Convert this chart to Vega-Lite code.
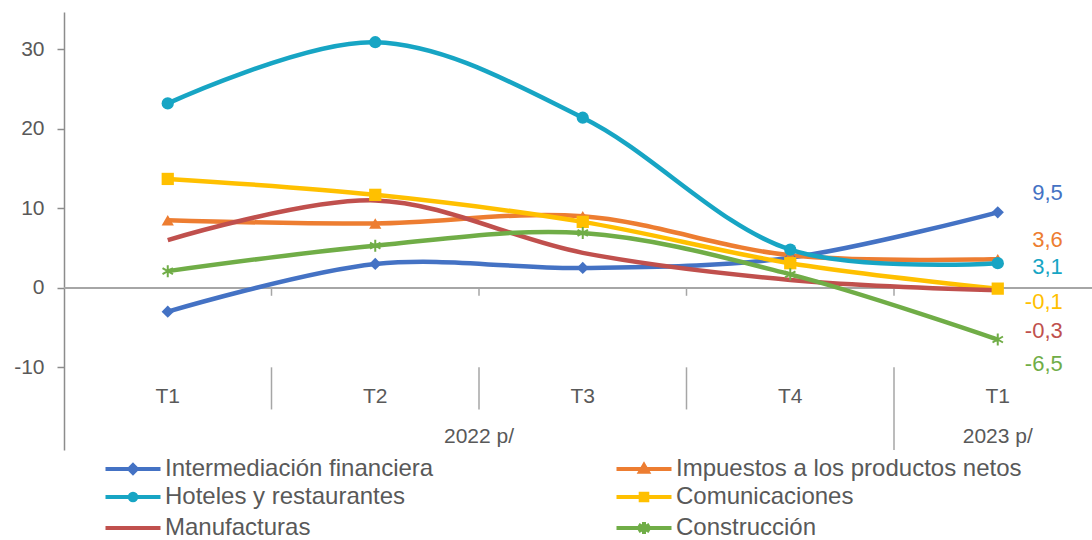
{
  "$schema": "https://vega.github.io/schema/vega-lite/v6.json",
  "width": 1028,
  "height": 438,
  "autosize": {"type": "none"},
  "padding": {"left": 64, "top": 12, "right": 0, "bottom": 90},
  "background": "white",
  "config": {
    "view": {"stroke": null},
    "font": "Liberation Sans",
    "locale": {"number": {"decimal": ",", "thousands": ".", "grouping": [3], "currency": ["", ""], "minus": "-"}}
  },
  "data": {
    "values": [
      {"sector": "Intermediación financiera", "periodo": "T1 2022", "anio": "2022 p/", "valor": -3.0},
      {"sector": "Intermediación financiera", "periodo": "T2 2022", "anio": "2022 p/", "valor": 3.0},
      {"sector": "Intermediación financiera", "periodo": "T3 2022", "anio": "2022 p/", "valor": 2.5},
      {"sector": "Intermediación financiera", "periodo": "T4 2022", "anio": "2022 p/", "valor": 3.8},
      {"sector": "Intermediación financiera", "periodo": "T1 2023", "anio": "2023 p/", "valor": 9.5},
      {"sector": "Impuestos a los productos netos", "periodo": "T1 2022", "anio": "2022 p/", "valor": 8.5},
      {"sector": "Impuestos a los productos netos", "periodo": "T2 2022", "anio": "2022 p/", "valor": 8.1},
      {"sector": "Impuestos a los productos netos", "periodo": "T3 2022", "anio": "2022 p/", "valor": 9.0},
      {"sector": "Impuestos a los productos netos", "periodo": "T4 2022", "anio": "2022 p/", "valor": 4.1},
      {"sector": "Impuestos a los productos netos", "periodo": "T1 2023", "anio": "2023 p/", "valor": 3.6},
      {"sector": "Hoteles y restaurantes", "periodo": "T1 2022", "anio": "2022 p/", "valor": 23.2},
      {"sector": "Hoteles y restaurantes", "periodo": "T2 2022", "anio": "2022 p/", "valor": 30.9},
      {"sector": "Hoteles y restaurantes", "periodo": "T3 2022", "anio": "2022 p/", "valor": 21.4},
      {"sector": "Hoteles y restaurantes", "periodo": "T4 2022", "anio": "2022 p/", "valor": 4.8},
      {"sector": "Hoteles y restaurantes", "periodo": "T1 2023", "anio": "2023 p/", "valor": 3.1},
      {"sector": "Comunicaciones", "periodo": "T1 2022", "anio": "2022 p/", "valor": 13.7},
      {"sector": "Comunicaciones", "periodo": "T2 2022", "anio": "2022 p/", "valor": 11.7},
      {"sector": "Comunicaciones", "periodo": "T3 2022", "anio": "2022 p/", "valor": 8.3},
      {"sector": "Comunicaciones", "periodo": "T4 2022", "anio": "2022 p/", "valor": 3.1},
      {"sector": "Comunicaciones", "periodo": "T1 2023", "anio": "2023 p/", "valor": -0.1},
      {"sector": "Manufacturas", "periodo": "T1 2022", "anio": "2022 p/", "valor": 6.0},
      {"sector": "Manufacturas", "periodo": "T2 2022", "anio": "2022 p/", "valor": 11.0},
      {"sector": "Manufacturas", "periodo": "T3 2022", "anio": "2022 p/", "valor": 4.4},
      {"sector": "Manufacturas", "periodo": "T4 2022", "anio": "2022 p/", "valor": 1.0},
      {"sector": "Manufacturas", "periodo": "T1 2023", "anio": "2023 p/", "valor": -0.3},
      {"sector": "Construcción", "periodo": "T1 2022", "anio": "2022 p/", "valor": 2.1},
      {"sector": "Construcción", "periodo": "T2 2022", "anio": "2022 p/", "valor": 5.3},
      {"sector": "Construcción", "periodo": "T3 2022", "anio": "2022 p/", "valor": 6.9},
      {"sector": "Construcción", "periodo": "T4 2022", "anio": "2022 p/", "valor": 1.7},
      {"sector": "Construcción", "periodo": "T1 2023", "anio": "2023 p/", "valor": -6.5}
    ]
  },
  "layer": [
    {
      "mark": {"type": "rule", "color": "#A6A6A6", "strokeWidth": 1.5},
      "encoding": {
        "y": {
          "datum": 0,
          "type": "quantitative",
          "scale": {"domain": [-20.4, 34.7], "nice": false, "zero": false},
          "axis": {
            "title": null,
            "values": [-10, 0, 10, 20, 30],
            "grid": false,
            "domainColor": "#8C8C8C",
            "domainWidth": 1.5,
            "tickColor": "#8C8C8C",
            "tickWidth": 1.5,
            "tickSize": 7,
            "labelPadding": 13,
            "labelFontSize": 21,
            "labelColor": "#595959",
            "labelFont": "Liberation Sans"
          }
        }
      }
    },
    {
      "transform": [{"filter": "datum.sector === 'Intermediación financiera' && datum.periodo !== 'T1 2022'"}],
      "mark": {"type": "rule", "color": "#A6A6A6", "strokeWidth": 1.5},
      "encoding": {
        "x": {"field": "periodo", "type": "nominal", "bandPosition": 0, "title": null},
        "y": {"datum": 0, "type": "quantitative", "title": null},
        "y2": {"datum": -1}
      }
    },
    {
      "transform": [{"filter": "datum.sector === 'Intermediación financiera' && datum.anio === '2022 p/' && datum.periodo !== 'T1 2022'"}],
      "mark": {"type": "rule", "color": "#A6A6A6", "strokeWidth": 1.5},
      "encoding": {
        "x": {"field": "periodo", "type": "nominal", "bandPosition": 0, "title": null},
        "y": {"datum": -10, "type": "quantitative", "title": null},
        "y2": {"datum": -15.3}
      }
    },
    {
      "transform": [{"filter": "datum.sector === 'Intermediación financiera' && datum.periodo === 'T1 2023'"}],
      "mark": {"type": "rule", "color": "#A6A6A6", "strokeWidth": 1.5},
      "encoding": {
        "x": {"field": "periodo", "type": "nominal", "bandPosition": 0, "title": null},
        "y": {"datum": -10, "type": "quantitative", "title": null},
        "y2": {"datum": -20.4}
      }
    },
    {
      "mark": {"type": "line", "interpolate": "catmull-rom", "strokeWidth": 4.5},
      "encoding": {
        "x": {
          "field": "periodo",
          "type": "nominal",
          "title": null,
          "scale": {
            "type": "band",
            "domain": ["T1 2022", "T2 2022", "T3 2022", "T4 2022", "T1 2023"],
            "range": [0, 1037.5],
            "paddingInner": 0,
            "paddingOuter": 0
          },
          "axis": {
            "title": null,
            "orient": "bottom",
            "offset": -82,
            "ticks": false,
            "tickSize": 0,
            "domain": false,
            "grid": false,
            "labelExpr": "slice(datum.label, 0, 2)",
            "labelFontSize": 21,
            "labelColor": "#595959",
            "labelFont": "Liberation Sans",
            "labelBaseline": "alphabetic",
            "labelAlign": "center",
            "labelPadding": 34,
            "labelAngle": 0
          }
        },
        "y": {"field": "valor", "type": "quantitative", "title": null},
        "color": {
          "field": "sector",
          "type": "nominal",
          "scale": {
            "domain": ["Intermediación financiera", "Impuestos a los productos netos", "Hoteles y restaurantes", "Comunicaciones", "Manufacturas", "Construcción"],
            "range": ["#4472C4", "#ED7D31", "#17A5C4", "#FFC000", "#C0504D", "#70AD47"]
          },
          "legend": {
            "title": null,
            "orient": "none",
            "legendX": 57,
            "legendY": 445,
            "direction": "horizontal",
            "columns": 2,
            "columnPadding": 174,
            "rowPadding": 4,
            "padding": 0,
            "labelFontSize": 24,
            "labelColor": "#595959",
            "labelFont": "Liberation Sans",
            "labelLimit": 600,
            "labelOffset": 20,
            "symbolSize": 121,
            "symbolStrokeWidth": 4,
            "encode": {
              "symbols": {
                "update": {
                  "shape": {"signal": "datum.value === 'Intermediación financiera' ? 'M-5,0H5M0,-0.7L0.7,0L0,0.7L-0.7,0Z' : datum.value === 'Impuestos a los productos netos' ? 'M-5,0H5M0,-0.7L0.7,0.5L-0.7,0.5Z' : datum.value === 'Hoteles y restaurantes' ? 'M-5,0H5M-0.6,0A0.6,0.6 0 1,0 0.6,0A0.6,0.6 0 1,0 -0.6,0Z' : datum.value === 'Comunicaciones' ? 'M-5,0H5M-0.6,-0.6H0.6V0.6H-0.6Z' : datum.value === 'Construcción' ? 'M-5,0H5M0,-1.1V1.1M-1,-0.6L1,0.6M-1,0.6L1,-0.6' : 'M-5,0H5'"},
                  "fill": {"scale": "color", "field": "value"},
                  "stroke": {"scale": "color", "field": "value"},
                  "strokeWidth": {"value": 4},
                  "opacity": {"value": 1}
                }
              }
            }
          }
        }
      }
    },
    {
      "transform": [{"filter": "datum.sector !== 'Manufacturas' && datum.sector !== 'Construcción'"}],
      "mark": {"type": "point", "filled": true, "opacity": 1, "size": 150},
      "encoding": {
        "x": {"field": "periodo", "type": "nominal", "title": null},
        "y": {"field": "valor", "type": "quantitative", "title": null},
        "color": {"field": "sector", "type": "nominal"},
        "shape": {
          "field": "sector",
          "type": "nominal",
          "legend": null,
          "scale": {
            "domain": ["Intermediación financiera", "Impuestos a los productos netos", "Hoteles y restaurantes", "Comunicaciones"],
            "range": ["diamond", "triangle-up", "circle", "square"]
          }
        }
      }
    },
    {
      "transform": [{"filter": "datum.sector === 'Construcción'"}],
      "mark": {"type": "point", "filled": false, "opacity": 1, "size": 144, "strokeWidth": 2, "shape": "M0,-1V1M-0.87,-0.5L0.87,0.5M-0.87,0.5L0.87,-0.5"},
      "encoding": {
        "x": {"field": "periodo", "type": "nominal", "title": null},
        "y": {"field": "valor", "type": "quantitative", "title": null},
        "color": {"field": "sector", "type": "nominal"}
      }
    },
    {
      "transform": [{"filter": "datum.periodo === 'T1 2023' && datum.sector === 'Intermediación financiera'"}],
      "mark": {"type": "text", "align": "right", "baseline": "middle", "dx": 65, "dy": -19, "fontSize": 22, "font": "Liberation Sans"},
      "encoding": {
        "x": {"field": "periodo", "type": "nominal", "title": null},
        "y": {"field": "valor", "type": "quantitative", "title": null},
        "text": {"field": "valor", "type": "quantitative", "format": ".1f"},
        "color": {"field": "sector", "type": "nominal"}
      }
    },
    {
      "transform": [{"filter": "datum.periodo === 'T1 2023' && datum.sector === 'Impuestos a los productos netos'"}],
      "mark": {"type": "text", "align": "right", "baseline": "middle", "dx": 65, "dy": -19, "fontSize": 22, "font": "Liberation Sans"},
      "encoding": {
        "x": {"field": "periodo", "type": "nominal", "title": null},
        "y": {"field": "valor", "type": "quantitative", "title": null},
        "text": {"field": "valor", "type": "quantitative", "format": ".1f"},
        "color": {"field": "sector", "type": "nominal"}
      }
    },
    {
      "transform": [{"filter": "datum.periodo === 'T1 2023' && datum.sector === 'Hoteles y restaurantes'"}],
      "mark": {"type": "text", "align": "right", "baseline": "middle", "dx": 65, "dy": 4, "fontSize": 22, "font": "Liberation Sans"},
      "encoding": {
        "x": {"field": "periodo", "type": "nominal", "title": null},
        "y": {"field": "valor", "type": "quantitative", "title": null},
        "text": {"field": "valor", "type": "quantitative", "format": ".1f"},
        "color": {"field": "sector", "type": "nominal"}
      }
    },
    {
      "transform": [{"filter": "datum.periodo === 'T1 2023' && datum.sector === 'Comunicaciones'"}],
      "mark": {"type": "text", "align": "right", "baseline": "middle", "dx": 65, "dy": 13, "fontSize": 22, "font": "Liberation Sans"},
      "encoding": {
        "x": {"field": "periodo", "type": "nominal", "title": null},
        "y": {"field": "valor", "type": "quantitative", "title": null},
        "text": {"field": "valor", "type": "quantitative", "format": ".1f"},
        "color": {"field": "sector", "type": "nominal"}
      }
    },
    {
      "transform": [{"filter": "datum.periodo === 'T1 2023' && datum.sector === 'Manufacturas'"}],
      "mark": {"type": "text", "align": "right", "baseline": "middle", "dx": 65, "dy": 41, "fontSize": 22, "font": "Liberation Sans"},
      "encoding": {
        "x": {"field": "periodo", "type": "nominal", "title": null},
        "y": {"field": "valor", "type": "quantitative", "title": null},
        "text": {"field": "valor", "type": "quantitative", "format": ".1f"},
        "color": {"field": "sector", "type": "nominal"}
      }
    },
    {
      "transform": [{"filter": "datum.periodo === 'T1 2023' && datum.sector === 'Construcción'"}],
      "mark": {"type": "text", "align": "right", "baseline": "middle", "dx": 65, "dy": 24, "fontSize": 22, "font": "Liberation Sans"},
      "encoding": {
        "x": {"field": "periodo", "type": "nominal", "title": null},
        "y": {"field": "valor", "type": "quantitative", "title": null},
        "text": {"field": "valor", "type": "quantitative", "format": ".1f"},
        "color": {"field": "sector", "type": "nominal"}
      }
    },
    {
      "transform": [{"filter": "datum.periodo === 'T2 2022' && datum.sector === 'Intermediación financiera'"}],
      "mark": {"type": "text", "align": "center", "baseline": "middle", "fontSize": 21, "font": "Liberation Sans", "color": "#595959"},
      "encoding": {
        "x": {"field": "periodo", "type": "nominal", "bandPosition": 1, "title": null},
        "y": {"datum": -18.8, "type": "quantitative", "title": null},
        "text": {"field": "anio", "type": "nominal"}
      }
    },
    {
      "transform": [{"filter": "datum.periodo === 'T1 2023' && datum.sector === 'Intermediación financiera'"}],
      "mark": {"type": "text", "align": "center", "baseline": "middle", "fontSize": 21, "font": "Liberation Sans", "color": "#595959"},
      "encoding": {
        "x": {"field": "periodo", "type": "nominal", "title": null},
        "y": {"datum": -18.8, "type": "quantitative", "title": null},
        "text": {"field": "anio", "type": "nominal"}
      }
    }
  ]
}
